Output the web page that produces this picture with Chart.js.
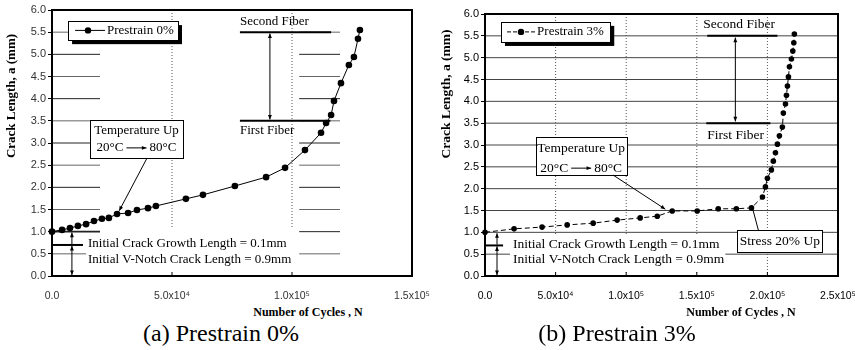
<!DOCTYPE html>
<html>
<head>
<meta charset="utf-8">
<script src="https://cdn.jsdelivr.net/npm/chart.js@4.4.1/dist/chart.umd.min.js"></script>
<style>
  body { margin: 0; width: 855px; height: 350px; overflow: hidden; background: #fff; position: relative; }
  canvas { position: absolute; top: 0; }
  #c0 { left: 0; }
  #c3 { left: 430px; }
  .xt { position: absolute; top: 305px; font: bold 12px "Liberation Serif", serif; transform: translateX(-50%); white-space: nowrap; }
  .cap { position: absolute; top: 320px; font: 24px "Liberation Serif", serif; transform: translateX(-50%); white-space: nowrap; }
</style>
</head>
<body>
<canvas id="c0" width="440" height="300"></canvas>
<canvas id="c3" width="440" height="300"></canvas>
<div class="xt" style="left:308px">Number of Cycles , N</div>
<div class="xt" style="left:741px">Number of Cycles , N</div>
<div class="cap" style="left:221px">(a) Prestrain 0%</div>
<div class="cap" style="left:617px">(b) Prestrain 3%</div>
<script>
// prestrain 0%
const cycles0 = [0, 4200, 7500, 10800, 14200, 17500, 20800, 23700, 27100, 31700, 35400, 40000, 43300,
  55800, 62900, 76200, 89200, 97100, 105400, 112100, 114200, 116300, 117500, 120400, 123700, 125800, 127500, 128300];
const crack0 = [1.0, 1.04, 1.08, 1.13, 1.17, 1.24, 1.29, 1.31, 1.40, 1.42, 1.49, 1.53, 1.58,
  1.74, 1.83, 2.03, 2.23, 2.44, 2.84, 3.23, 3.45, 3.63, 3.95, 4.35, 4.76, 4.94, 5.35, 5.55];

// prestrain 3%
const cycles3 = [0, 20600, 40400, 58200, 76600, 93600, 109900, 122000, 132600, 150300, 165200, 178000, 188700,
  196500, 198600, 200000, 202800, 204200, 205700, 207100, 208500, 210600, 211300, 212800, 213500, 214200,
  214900, 215600, 217000, 218000, 218700, 219100];
const crack3 = [1.0, 1.08, 1.12, 1.17, 1.21, 1.28, 1.33, 1.37, 1.49, 1.49, 1.54, 1.54, 1.56,
  1.81, 2.04, 2.24, 2.43, 2.63, 2.82, 3.02, 3.21, 3.41, 3.73, 3.94, 4.14, 4.35,
  4.56, 4.79, 4.97, 5.15, 5.34, 5.54];

const seriesNames = ['Prestrain 0%', 'Prestrain 3%'];
const xLabels0 = ['0.0', '5.0x10⁴', '1.0x10⁵', '1.5x10⁵'];
const xLabels3 = ['0.0', '5.0x10⁴', '1.0x10⁵', '1.5x10⁵', '2.0x10⁵', '2.5x10⁵'];
const gridLevels = [0.5, 1, 1.5, 2, 2.5, 3, 3.5, 4, 4.5, 5, 5.5];
const yTitle = 'Crack Length, a (mm)';

const SERIF = '"Liberation Serif", "Times New Roman", serif';
const SANS = '"Liberation Sans", Arial, sans-serif';

function seg(ctx, x1, y1, x2, y2, w, c, dash) {
  ctx.beginPath();
  ctx.lineWidth = w; ctx.strokeStyle = c; ctx.setLineDash(dash || []);
  ctx.moveTo(x1, y1); ctx.lineTo(x2, y2); ctx.stroke();
  ctx.setLineDash([]);
}
function head(ctx, x1, y1, x2, y2, s) {
  const a = Math.atan2(y2 - y1, x2 - x1);
  s = s || 5;
  ctx.beginPath(); ctx.fillStyle = '#000';
  ctx.moveTo(x2, y2);
  ctx.lineTo(x2 - s * Math.cos(a - 0.4), y2 - s * Math.sin(a - 0.4));
  ctx.lineTo(x2 - s * Math.cos(a + 0.4), y2 - s * Math.sin(a + 0.4));
  ctx.fill();
}
function arrow(ctx, x1, y1, x2, y2, both) {
  seg(ctx, x1, y1, x2, y2, 1, '#000');
  head(ctx, x1, y1, x2, y2);
  if (both) head(ctx, x2, y2, x1, y1);
}
function box(ctx, l, t, r, b, shadow, noBorder) {
  if (shadow) { ctx.fillStyle = '#000'; ctx.fillRect(l + shadow, t + shadow, r - l, b - t); }
  ctx.fillStyle = '#fff'; ctx.fillRect(l, t, r - l, b - t);
  if (!noBorder) {
    ctx.lineWidth = 1; ctx.strokeStyle = '#000';
    ctx.strokeRect(Math.round(l) + 0.5, Math.round(t) + 0.5, Math.round(r - l), Math.round(b - t));
  }
}
function txt(ctx, s, x, y, size, align, weight) {
  ctx.font = (weight || 'normal') + ' ' + size + 'px ' + SERIF;
  ctx.fillStyle = '#000'; ctx.textAlign = align || 'left'; ctx.textBaseline = 'middle';
  ctx.fillText(s, x, y);
}
function tempLine(ctx, cx, y, size) {
  ctx.font = size + 'px ' + SERIF;
  const w1 = ctx.measureText('20°C').width, w2 = ctx.measureText('80°C').width, L = 20, g = 3;
  let x = cx - (w1 + w2 + L + 2 * g) / 2;
  txt(ctx, '20°C', x, y, size);
  x += w1 + g;
  seg(ctx, x, y, x + L, y, 1, '#000');
  head(ctx, x, y, x + L, y, 5);
  txt(ctx, '80°C', x + L + g, y, size);
}
function legendBox(ctx, X, Y, lg, label, dash) {
  box(ctx, X(lg.x0), Y(lg.y0), X(lg.x1), Y(lg.y1), 4);
  const yy = Y(lg.ym);
  seg(ctx, X(lg.l0), yy, X(lg.l1), yy, 1, '#000', dash);
  ctx.beginPath(); ctx.fillStyle = '#000';
  ctx.arc(X(lg.dot), yy, 3.2, 0, Math.PI * 2); ctx.fill();
  txt(ctx, label, X(lg.tx), yy, 13);
}
function rotTitle(ctx, cx, cy, size) {
  ctx.save();
  ctx.translate(cx, cy); ctx.rotate(-Math.PI / 2);
  txt(ctx, yTitle, 0, 0, size, 'center', 'bold');
  ctx.restore();
}
function innerTicks(ctx, chart) {
  const a = chart.chartArea;
  chart.scales.x.ticks.forEach(t => {
    const px = chart.scales.x.getPixelForValue(t.value);
    seg(ctx, px, a.bottom, px, a.bottom - 4, 1, '#000');
  });
}

const drawA = {
  id: 'drawA',
  beforeDatasetsDraw(chart) {
    const { ctx, chartArea: a, scales: { x, y } } = chart;
    const X = v => x.getPixelForValue(v), Y = v => y.getPixelForValue(v);
    ctx.save();
    gridLevels.forEach(v => {
      const c = Number.isInteger(v) ? '#222' : '#666';
      seg(ctx, X(0), Y(v), X(20000), Y(v), v === 1 ? 1.6 : 1, c);
      seg(ctx, X(103000), Y(v), X(120000), Y(v), 1, c);
    });
    [50000, 100000].forEach(v => seg(ctx, X(v), Y(6), X(v), Y(1.1), 1, '#555', [1, 2]));
    innerTicks(ctx, chart);

    // initial crack notes
    box(ctx, X(14200), Y(0.9), X(99200), Y(0.1), 0, true);
    seg(ctx, X(0), Y(0.7), X(12900), Y(0.7), 2, '#000');
    arrow(ctx, X(8300), Y(0.72), X(8300), Y(0.98));
    arrow(ctx, X(8300), Y(0.68), X(8300), Y(0.02), true);
    txt(ctx, 'Initial Crack Growth Length = 0.1mm', X(15000), Y(0.74), 13);
    txt(ctx, 'Initial V-Notch Crack Length = 0.9mm', X(15000), Y(0.38), 13);

    // fibers
    seg(ctx, X(78300), Y(5.5), X(116300), Y(5.5), 2, '#000');
    seg(ctx, X(78300), Y(3.5), X(116000), Y(3.5), 2, '#000');
    arrow(ctx, X(90800), Y(5.47), X(90800), Y(3.53), true);
    txt(ctx, 'Second Fiber', X(78300), Y(5.75), 13);
    txt(ctx, 'First Fiber', X(78300), Y(3.28), 13);

    // temperature note
    box(ctx, X(15800), Y(3.52), X(54600), Y(2.66));
    txt(ctx, 'Temperature Up', X(35200), Y(3.27), 13, 'center');
    tempLine(ctx, X(35200), Y(2.89), 13);
    arrow(ctx, X(39600), Y(2.66), X(28000), Y(1.47));

    legendBox(ctx, X, Y, { x0: 6700, x1: 52500, y0: 5.75, y1: 5.32, ym: 5.54, l0: 9600, l1: 22100, dot: 15000, tx: 22900 },
      chart.data.datasets[0].label);

    ctx.lineWidth = 2; ctx.strokeStyle = '#000';
    ctx.strokeRect(a.left, a.top, a.width, a.height);
    rotTitle(ctx, 12, 96, 13);
    ctx.restore();
  }
};

const drawB = {
  id: 'drawB',
  beforeDatasetsDraw(chart) {
    const { ctx, chartArea: a, scales: { x, y } } = chart;
    const X = v => x.getPixelForValue(v), Y = v => y.getPixelForValue(v);
    ctx.save();
    gridLevels.forEach(v => seg(ctx, X(0), Y(v), X(250000), Y(v), 1, '#444'));
    [50000, 100000, 150000, 200000].forEach(v => seg(ctx, X(v), Y(6), X(v), Y(0), 1, '#555', [1, 2]));
    innerTicks(ctx, chart);

    box(ctx, X(17700), Y(0.92), X(170200), Y(0.09), 0, true);
    seg(ctx, X(0), Y(0.7), X(12800), Y(0.7), 2, '#000');
    arrow(ctx, X(8500), Y(0.72), X(8500), Y(0.98));
    arrow(ctx, X(8500), Y(0.68), X(8500), Y(0.02), true);
    txt(ctx, 'Initial Crack Growth Length = 0.1mm', X(19900), Y(0.73), 13.5);
    txt(ctx, 'Initial V-Notch Crack Length = 0.9mm', X(19900), Y(0.39), 13.5);

    seg(ctx, X(157400), Y(5.5), X(207100), Y(5.5), 2, '#000');
    seg(ctx, X(156700), Y(3.5), X(202100), Y(3.5), 2, '#000');
    arrow(ctx, X(177300), Y(5.46), X(177300), Y(3.54), true);
    txt(ctx, 'Second Fiber', X(154600), Y(5.77), 13.5);
    txt(ctx, 'First Fiber', X(157400), Y(3.23), 13.5);

    box(ctx, X(36200), Y(3.18), X(100700), Y(2.31));
    txt(ctx, 'Temperature Up', X(68100), Y(2.91), 13.5, 'center');
    tempLine(ctx, X(68100), Y(2.47), 13.5);
    arrow(ctx, X(90800), Y(2.31), X(127700), Y(1.53));

    box(ctx, X(178700), Y(1.05), X(239000), Y(0.55));
    txt(ctx, 'Stress 20% Up', X(208800), Y(0.80), 13.5, 'center');
    seg(ctx, X(189400), Y(1.56), X(193600), Y(1.05), 1, '#000');

    legendBox(ctx, X, Y, { x0: 11300, x1: 88700, y0: 5.82, y1: 5.36, ym: 5.59, l0: 15600, l1: 35500, dot: 25500, tx: 36900 },
      chart.data.datasets[0].label, [4, 2]);

    ctx.lineWidth = 2; ctx.strokeStyle = '#000';
    ctx.strokeRect(a.left, a.top, a.width, a.height);
    rotTitle(ctx, 17, 94, 13.5);
    ctx.restore();
  }
};

function makeChart(id, xs, ys, name, xLabels, xMax, opts, plugin) {
  return new Chart(document.getElementById(id), {
    type: 'scatter',
    data: {
      datasets: [{
        label: name,
        data: xs.map((v, i) => ({ x: v, y: ys[i] })),
        showLine: true,
        borderColor: '#000',
        borderWidth: 1,
        borderDash: opts.dash,
        pointRadius: opts.r,
        pointBackgroundColor: '#000',
        pointBorderWidth: 0,
        clip: false
      }]
    },
    options: {
      responsive: false,
      animation: false,
      devicePixelRatio: 1,
      layout: { padding: { left: 0, top: opts.top, right: opts.right, bottom: 0 } },
      plugins: { legend: { display: false }, tooltip: { enabled: false } },
      scales: {
        x: {
          type: 'linear', min: 0, max: xMax,
          grid: { display: false },
          border: { display: false },
          ticks: {
            stepSize: 50000, autoSkip: false, maxRotation: 0, padding: 6,
            color: opts.tickColor, font: { family: SANS, size: 10.5 },
            callback: (v, i) => xLabels[i]
          },
          afterFit: s => { s.height = 24; }
        },
        y: {
          min: 0, max: 6,
          grid: { drawOnChartArea: false, drawTicks: true, tickLength: 4, color: '#000' },
          border: { display: false },
          ticks: {
            stepSize: 0.5, autoSkip: false, padding: 2,
            color: opts.tickColor, font: { family: SANS, size: 11 },
            callback: v => v.toFixed(1)
          },
          afterFit: s => { s.width = opts.yw; }
        }
      }
    },
    plugins: [plugin]
  });
}

makeChart('c0', cycles0, crack0, seriesNames[0], xLabels0, 150000,
  { r: 3.3, top: 10, right: 28, yw: 52, tickColor: '#333' }, drawA);
makeChart('c3', cycles3, crack3, seriesNames[1], xLabels3, 250000,
  { r: 2.8, dash: [5, 3], top: 14, right: 32, yw: 55, tickColor: '#000' }, drawB);
</script>
</body>
</html>
